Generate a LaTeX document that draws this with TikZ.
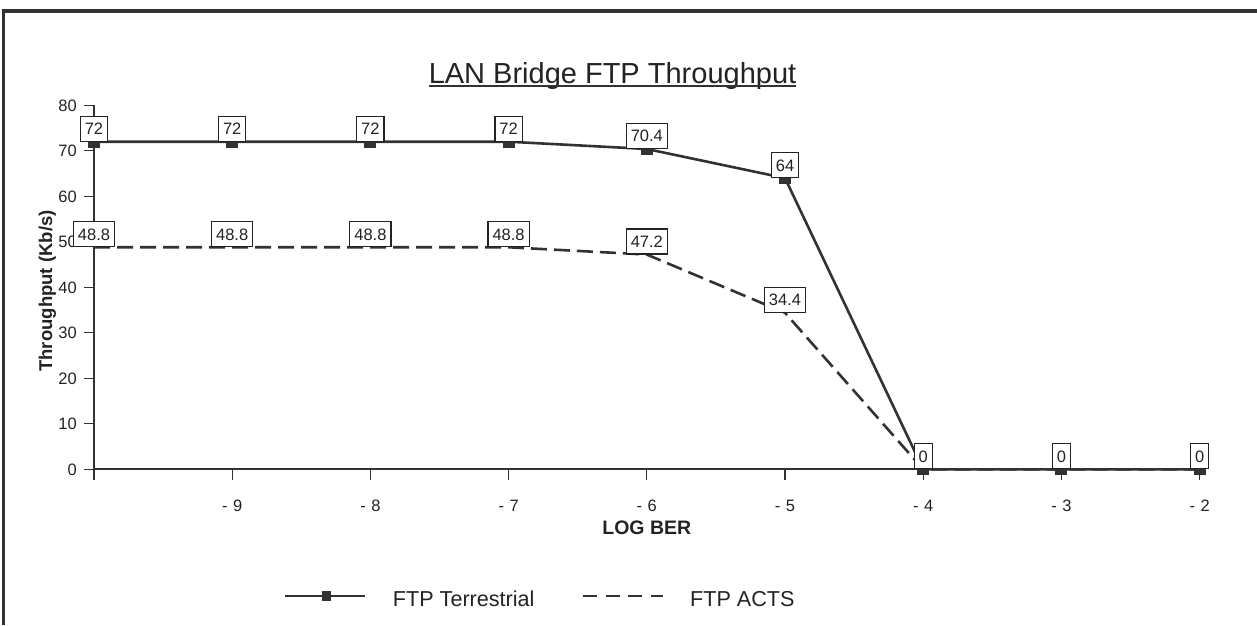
\documentclass[tikz,border=0pt]{standalone}
\usepackage{fontspec}
\setmainfont{Liberation Sans}
\definecolor{ink}{RGB}{35,35,35}
\definecolor{lineink}{RGB}{50,50,50}

\begin{document}
\begin{tikzpicture}[x=1pt,y=1pt,
  every node/.style={text=ink},
  axisline/.style={draw=lineink, line width=1.8pt},
  tickmark/.style={draw=lineink, line width=1.3pt},
  ticklabel/.style={font=\fontsize{16.5}{18}\selectfont, inner sep=0pt},
  terr/.style={draw=lineink, line width=2.6pt},
  acts/.style={draw=lineink, line width=2.6pt, dash pattern=on 16pt off 7pt},
  valbox/.style={draw=ink, fill=white, line width=1.2pt,
    font=\fontsize{16.5}{18}\selectfont, inner xsep=4.5pt, inner ysep=0pt,
    minimum height=25pt, text height=12pt, text depth=0pt},
  ptmark/.style={fill=lineink, minimum width=12pt, minimum height=12pt, inner sep=0pt},
  frameline/.style={draw=lineink, line width=3.4pt, line join=miter},
]
\useasboundingbox (0,0) rectangle (1257,-625);

% frame
\draw[frameline] (3.3,-625) -- (3.3,-10.8) -- (1257,-10.8);

% title
\node[font=\fontsize{29}{34}\selectfont, inner sep=0pt, anchor=base] (title) at (612.5,-83) {LAN Bridge FTP Throughput};
\draw[draw=lineink, line width=1.4pt] ([yshift=-3pt]title.base west) -- ([yshift=-3pt]title.base east);

% y axis label
\node[font=\bfseries\fontsize{18.5}{22}\selectfont, inner sep=0pt, anchor=base, rotate=90] (ylabel) at (52,-291) {Throughput (Kb/s)};

\begin{scope}[xshift=94pt, yshift=-469.3pt, x=138.2pt, y=4.55pt]
  % axes
  \draw[axisline] (0,80) -- (0,0) -- (8,0);
  \foreach \v in {0,10,...,80} {
    \draw[tickmark] (0,\v) -- ++(-10pt,0);
    \node[ticklabel, anchor=east, text height=12pt, text depth=0pt] (yl\v) at ([xshift=-17pt]0,\v) {\v};
  }
  \foreach \k in {0,...,8} \draw[tickmark] (\k,0) -- ++(0,-11pt);
  \foreach \k/\t in {1/9,2/8,3/7,4/6,5/5,6/4,7/3,8/2}
    \node[ticklabel, anchor=base] (xl\k) at ([yshift=-41.7pt]\k,0) {-\,\,\t};
  \node[font=\bfseries\fontsize{19.5}{22}\selectfont, anchor=base, inner sep=0pt] (xlabel) at ([yshift=-64.7pt]4,0) {LOG BER};

  % data points
  \foreach \k/\v in {0/72,1/72,2/72,3/72,4/70.4,5/64,6/0,7/0,8/0}
    \coordinate (t\k) at (\k,\v);
  \foreach \k/\v in {0/48.8,1/48.8,2/48.8,3/48.8,4/47.2,5/34.4,6/0,7/0,8/0}
    \coordinate (a\k) at (\k,\v);

  % series
  \draw[acts] (a0) -- (a1) -- (a2) -- (a3) -- (a4) -- (a5) -- (a6) -- (a7) -- (a8);
  \draw[terr] (t0) -- (t1) -- (t2) -- (t3) -- (t4) -- (t5) -- (t6) -- (t7) -- (t8);
  \foreach \k in {0,...,8} \node[ptmark] (mt\k) at (t\k) {};

  % value labels
  \foreach \k/\v in {0/72,1/72,2/72,3/72,4/70.4,5/64,6/0,7/0,8/0}
    \node[valbox, anchor=south] (lt\k) at (t\k) {\v};
  \foreach \k/\v in {0/48.8,1/48.8,2/48.8,3/48.8,4/47.2,5/34.4}
    \node[valbox, anchor=south] (la\k) at (a\k) {\v};
\end{scope}

% legend
\coordinate (lgTa) at (285,-596);
\coordinate (lgTb) at (365,-596);
\draw[draw=lineink, line width=1.8pt] (lgTa) -- (lgTb);
\node[fill=lineink, minimum width=9pt, minimum height=10pt, inner sep=0pt] (lgTm) at (326,-596) {};
\node[font=\fontsize{21.6}{26}\selectfont, anchor=base west, inner sep=0pt] (lgT) at (392.7,-606.7) {FTP Terrestrial};
\coordinate (lgAa) at (583,-596);
\coordinate (lgAb) at (663,-596);
\draw[draw=lineink, line width=1.8pt, dash pattern=on 14pt off 8.5pt] (lgAa) -- (lgAb);
\node[font=\fontsize{21.6}{26}\selectfont, anchor=base west, inner sep=0pt] (lgA) at (690,-606.7) {FTP ACTS};
\end{tikzpicture}
\end{document}
